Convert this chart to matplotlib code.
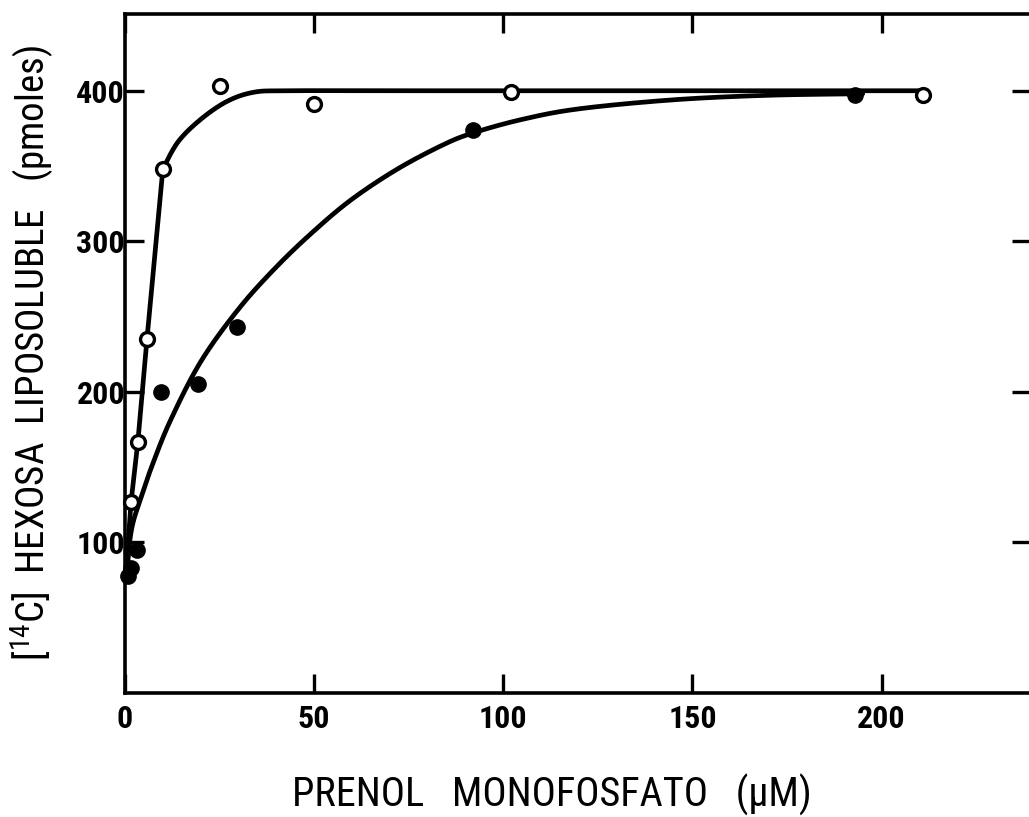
import numpy as np
import matplotlib
matplotlib.use("Agg")
import matplotlib.pyplot as plt

plt.rcParams['font.family'] = ['Roboto Condensed', 'DejaVu Sans']
plt.rcParams['mathtext.fontset'] = 'custom'
plt.rcParams['mathtext.rm'] = 'Roboto Condensed'
plt.rcParams['mathtext.default'] = 'rm'

# measured points, open circles
open_x = [1.6, 3.4, 5.8, 10.0, 25.2, 50.0, 102.0, 211.0]
open_y = [127, 167, 235, 348, 403, 391, 399, 397]

# measured points, filled circles
full_x = [0.8, 1.6, 3.2, 9.5, 19.4, 29.6, 92.0, 193.0]
full_y = [78, 83, 95, 200, 205, 243, 374, 397]

# hand-drawn curves through the data
open_rise_x = [0.5, 1.6, 3.4, 5.8, 10.0]
open_rise_y = [88, 127, 167, 235, 348]
open_bend_x = [10.0, 14.0, 20.0, 27.0, 34.0, 42.0, 60.0, 90.0, 130.0, 170.0, 211.0]
open_bend_y = [348, 366, 381, 393, 399, 400, 400, 400, 400, 400, 400]
full_curve_x = [0.5, 1.2, 2.2, 4.0, 7.0, 12.0, 20.0, 30.0, 40.0, 50.0, 60.0, 72.0, 84.0, 92.0, 105.0, 120.0, 145.0, 170.0, 195.0]
full_curve_y = [80, 100, 114, 128, 150, 181, 220, 255, 283, 307, 328, 348, 364, 372, 381, 388, 394, 397, 398]

x_ticks = [0, 50, 100, 150, 200]
y_ticks = [100, 200, 300, 400]


def catmull_rom(xs, ys, n=30):
    p = np.column_stack([xs, ys]).astype(float)
    p = np.vstack([p[0], p, p[-1]])
    t = np.linspace(0, 1, n, endpoint=False)[:, None]
    segs = []
    for i in range(1, len(p) - 2):
        p0, p1, p2, p3 = p[i - 1], p[i], p[i + 1], p[i + 2]
        segs.append(0.5 * (2 * p1 + (p2 - p0) * t
                           + (2 * p0 - 5 * p1 + 4 * p2 - p3) * t ** 2
                           + (3 * p1 - p0 - 3 * p2 + p3) * t ** 3))
    segs.append(p[-2][None])
    c = np.vstack(segs)
    return c[:, 0], c[:, 1]


fig = plt.figure(figsize=(10.29, 8.17), dpi=100)
ax = fig.add_axes([0.1215, 0.1518, 0.8805, 0.8311])

bx, by = catmull_rom(open_bend_x, open_bend_y)
ax.plot(np.r_[open_rise_x, bx[1:]], np.r_[open_rise_y, by[1:]],
        color='black', lw=3.4, solid_capstyle='round', solid_joinstyle='round', zorder=2)
cx, cy = catmull_rom(full_curve_x, full_curve_y)
ax.plot(cx, cy, color='black', lw=3.4, solid_capstyle='round', zorder=2)

ax.plot(full_x, full_y, 'o', color='black', ms=11, zorder=3, clip_on=False)
ax.plot(open_x, open_y, 'o', mfc='white', mec='black', mew=2.4, ms=10, zorder=4, clip_on=False)

ax.set_xlim(0, 239.5)
ax.set_ylim(0, 451)
ax.set_xticks(x_ticks)
ax.set_yticks(y_ticks)
ax.tick_params(axis='both', which='both', direction='in', length=14, width=2.4,
               labelsize=23, top=True, right=True)
ax.tick_params(axis='x', pad=8)
ax.tick_params(axis='y', pad=0)
for lab in ax.get_xticklabels() + ax.get_yticklabels():
    lab.set_fontweight('bold')
for s in ax.spines.values():
    s.set_linewidth(2.6)

ax.set_ylabel(r'[$^{14}$C]  HEXOSA  LIPOSOLUBLE   (pmoles)', fontsize=28, labelpad=14)
fig.text(552 / 1029, 1 - 795 / 817, 'PRENOL   MONOFOSFATO   (µM)',
         fontsize=29, ha='center', va='center')

fig.savefig('out.png', dpi=100)
